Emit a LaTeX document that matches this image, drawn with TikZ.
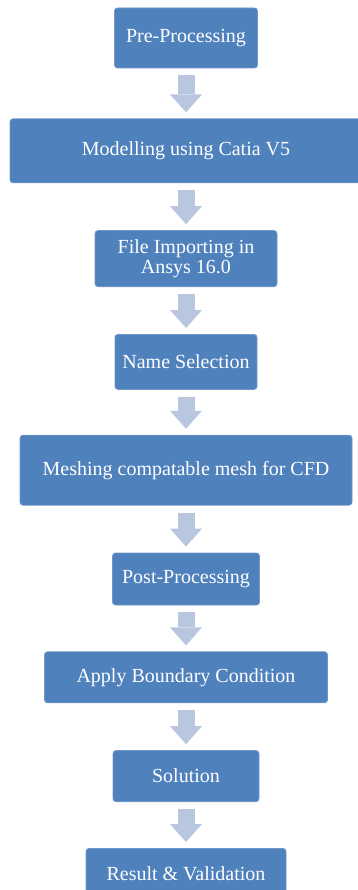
\documentclass[tikz,border=0pt]{standalone}
\usepackage{fontspec}
\setmainfont{Liberation Serif}
\usetikzlibrary{positioning,arrows.meta}
\definecolor{boxblue}{HTML}{4F81BD}
\definecolor{boxline}{HTML}{7097CB}
\definecolor{arrowblue}{HTML}{B8C6E0}
\begin{document}
\begin{tikzpicture}[x=1pt, y=1pt, node distance=47pt,
	main/.style = {draw=boxline, line width=0.8pt, fill=boxblue, rounded corners=3pt, text=white, font=\fontsize{20}{20.5}\selectfont, align=center, inner sep=0pt, minimum height=51pt},
	flow/.style = {draw=arrowblue, line width=17pt, -{Triangle[length=18pt, width=32pt, line width=0pt]}, shorten <=7pt, shorten >=6pt}]
			\useasboundingbox (0,0) rectangle (358,-890);
			\node[main, minimum width=143pt, minimum height=60pt] (1) at (186,-38) {Pre-Processing};
			\node[main, minimum width=352pt, minimum height=64pt] (2) [below=50pt of 1] {Modelling using Catia V5};
			\node[main, minimum width=182pt, minimum height=56pt] (3) [below=of 2] {File Importing in\\Ansys 16.0};
			\node[main, minimum width=142pt, minimum height=55pt] (4) [below=of 3] {Name Selection};
			\node[main, minimum width=332pt, minimum height=70pt] (5) [below=45pt of 4] {Meshing compatable mesh for CFD};
			\node[main, minimum width=147pt, minimum height=52pt] (6) [below=of 5] {Post-Processing};
			\node[main, minimum width=283pt] (7) [below=46pt of 6] {Apply Boundary Condition};
			\node[main, minimum width=146pt] (8) [below=of 7] {Solution};
			\node[main, minimum width=200pt] (9) [below=46pt of 8] {Result \& Validation};
			\draw[flow] (1) -- (2);
			\draw[flow] (2) -- (3);
			\draw[flow] (3) -- (4);
			\draw[flow] (4) -- (5);
			\draw[flow] (5) -- (6);
			\draw[flow] (6) -- (7);
			\draw[flow] (7) -- (8);
			\draw[flow] (8) -- (9);
		\end{tikzpicture}
\end{document}
